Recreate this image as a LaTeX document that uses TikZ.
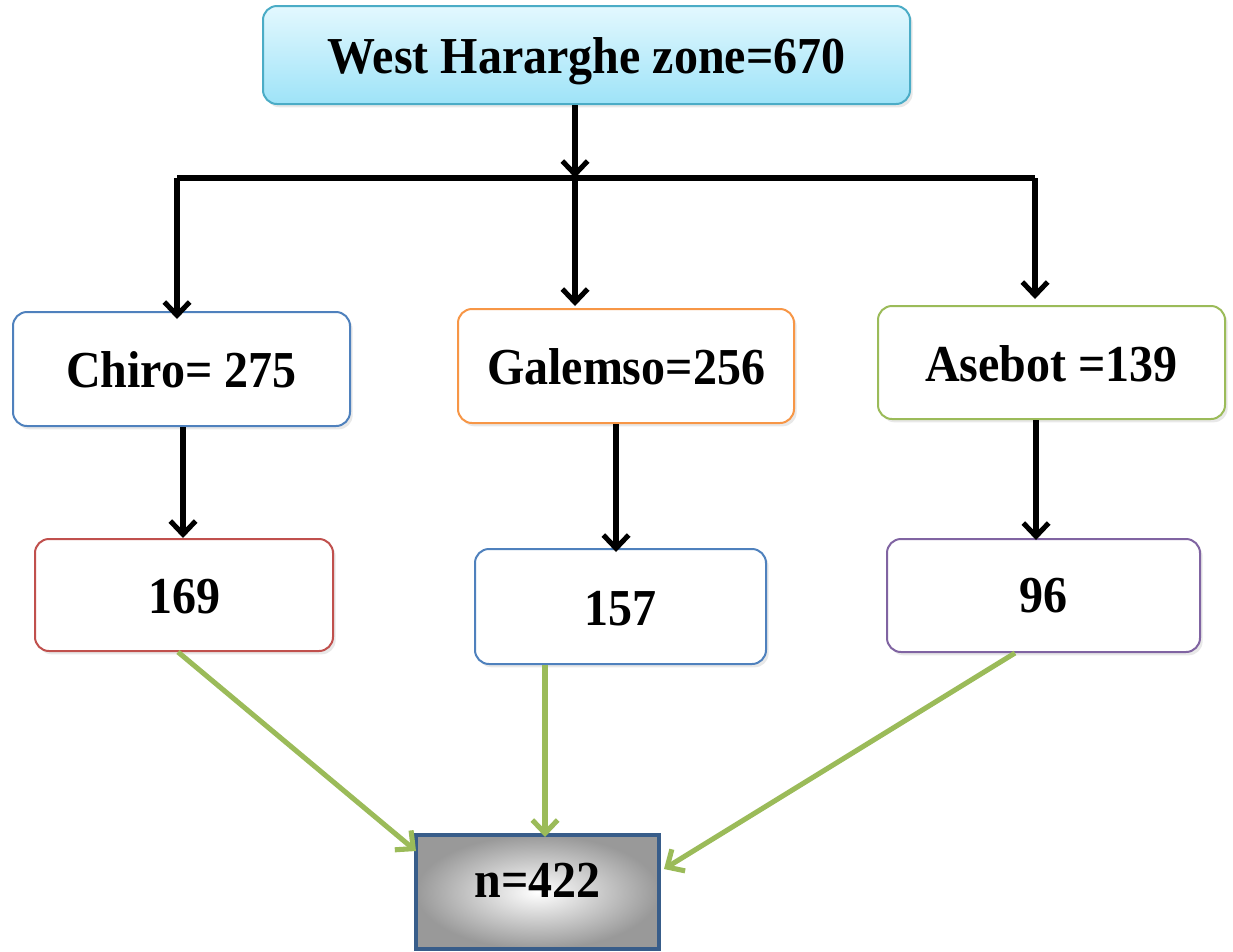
\documentclass[tikz,border=0pt]{standalone}
\usepackage{fontspec}
\setmainfont{Liberation Serif}
\usetikzlibrary{arrows.meta,shadows,calc}
\definecolor{topfill1}{HTML}{E3F8FE}
\definecolor{topfill2}{HTML}{9EE3F8}
\definecolor{topborder}{HTML}{4BACC6}
\definecolor{cblue}{HTML}{4F81BD}
\definecolor{corange}{HTML}{F79646}
\definecolor{cgreen}{HTML}{9BBB59}
\definecolor{cred}{HTML}{C0504D}
\definecolor{cpurple}{HTML}{8064A2}
\definecolor{cnavy}{HTML}{385D8A}
\tikzset{
  box/.style={draw, rounded corners=14pt*0.75, line width=1.5pt, fill=white,
    font=\fontsize{36}{40}\selectfont\bfseries, align=center,
    drop shadow={opacity=0.18, shadow xshift=2pt, shadow yshift=-2.5pt}},
  blk/.style={line width=3.8pt, black, -{Straight Barb[length=10pt, width=19pt, line width=3.8pt]}},
  grn/.style={line width=3.8pt, cgreen, -{Straight Barb[length=10pt, width=19pt, line width=3.8pt]}},
  plain/.style={line width=3.8pt, black}
}
\newcommand{\tall}[1]{\scalebox{1}[1.08]{#1}}
\begin{document}
\begin{tikzpicture}[x=0.75pt,y=-0.75pt]
\useasboundingbox (0,0) rectangle (1233,951);
% nodes
\node[box, draw=topborder, top color=topfill1, bottom color=topfill2,
  minimum width=647*0.75pt, minimum height=98*0.75pt] (top) at (586.5,55) {\raisebox{-14pt}[0pt][0pt]{\tall{West Hararghe zone=670}}};
\node[box, draw=cblue, minimum width=337*0.75pt, minimum height=114*0.75pt] (chiro) at (181.5,369) {\raisebox{-14pt}[0pt][0pt]{\tall{Chiro= 275}}};
\node[box, draw=corange, minimum width=336*0.75pt, minimum height=114*0.75pt] (gal) at (626,366) {\raisebox{-14pt}[0pt][0pt]{\tall{Galemso=256}}};
\node[box, draw=cgreen, minimum width=347*0.75pt, minimum height=113*0.75pt] (ase) at (1051.5,362.5) {\raisebox{-14pt}[0pt][0pt]{\tall{Asebot =139}}};
\node[box, draw=cred, minimum width=298*0.75pt, minimum height=112*0.75pt] (s169) at (184,595) {\raisebox{-13.5pt}[0pt][0pt]{\tall{169}}};
\node[box, draw=cblue, minimum width=291*0.75pt, minimum height=115*0.75pt] (s157) at (620.5,606.5) {\raisebox{-14.5pt}[0pt][0pt]{\tall{157}}};
\node[box, draw=cpurple, minimum width=313*0.75pt, minimum height=113*0.75pt] (s96) at (1043.5,595.5) {\raisebox{-13pt}[0pt][0pt]{\tall{96}}};
\node[draw=cnavy, line width=3pt, inner color=white, outer color=black!40,
  minimum width=243*0.75pt, minimum height=114*0.75pt,
  font=\fontsize{36}{40}\selectfont\bfseries] (n) at (537.5,892) {\raisebox{-4pt}[0pt][0pt]{\tall{n=422}}};
% junction coordinates
\coordinate (bm) at (575,178);
\coordinate (bl) at (177,178);
\coordinate (br) at (1035,178);
\coordinate (c1) at (183,0);
\coordinate (c2) at (616,0);
\coordinate (c3) at (1036,0);
% black connectors
\draw[blk] (top.south -| bm) -- (bm);
\draw[plain] (bl) -- (br);
\draw[blk] (bl) -- ($(bl |- chiro.north)+(0,8)$);
\draw[blk] (bm) -- ($(bm |- gal.north)+(0,-2)$);
\draw[blk] (br) -- ($(br |- ase.north)+(0,-6)$);
\draw[blk] (chiro.south -| c1) -- (s169.north -| c1);
\draw[blk] (gal.south -| c2) -- ($(s157.north -| c2)+(0,4)$);
\draw[blk] (ase.south -| c3) -- ($(s96.north -| c3)+(0,2)$);
% green connectors
\coordinate (g1) at (178,0);
\coordinate (g2) at (545,0);
\coordinate (g3) at (1015,0);
\draw[grn] (s169.south -| g1) -- ($(n.north west)+(2,18)$);
\draw[grn] (s157.south -| g2) -- ($(n.north -| g2)+(0,4)$);
\draw[grn] (s96.south -| g3) -- ($(n.north east)+(3,36)$);
\end{tikzpicture}
\end{document}
